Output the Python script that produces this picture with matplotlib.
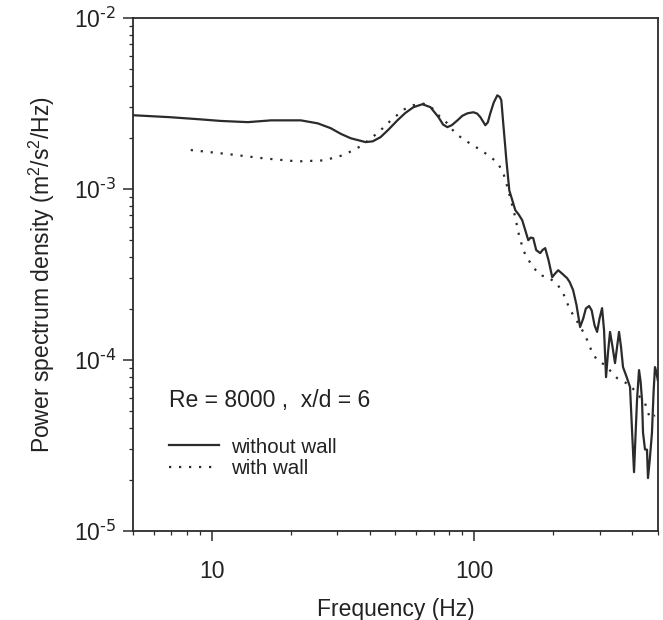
import numpy as np
import matplotlib
matplotlib.use("Agg")
import matplotlib.pyplot as plt
from matplotlib.ticker import LogLocator, NullFormatter, FuncFormatter

plt.rcParams['font.family'] = ['Liberation Sans', 'DejaVu Sans']
plt.rcParams['mathtext.default'] = 'regular'
plt.rcParams['axes.unicode_minus'] = False

# --- spectra read at Re = 8000, x/d = 6 ---
# without wall (solid)
f_free = [5.0, 6.9, 8.85, 10.8, 13.7, 16.8, 21.8, 25.3, 28.3, 31.0, 33.8, 38.5, 41.0,
          43.9, 47.0, 50.9, 54.5, 58.6, 63.4, 68.0, 73.0, 76.0, 78.9, 82.0, 86.2, 90.0,
          94.1, 99.1, 102.5, 105.4, 110.1, 112.5, 115.0, 118.5, 122.3, 125.0, 126.7,
          128.9, 131.0, 132.3, 135.9, 139.5, 143.2, 147.5, 152.2, 156.0, 160.5, 164.0,
          167.6, 172.1, 178.2, 182.0, 186.2, 192.0, 198.0, 203.0, 208.7, 216.0, 225.7,
          231.0, 237.9, 245.0, 252.9, 260.0, 266.0, 273.7, 280.0, 287.0, 293.6, 300.0,
          306.7, 312.0, 317.6, 323.0, 328.9, 336.0, 343.6, 350.0, 355.9, 362.0, 368.6,
          380.0, 392.0, 398.9, 406.0, 411.0, 416.8, 424.2, 430.0, 435.5, 439.3, 447.0,
          454.9, 458.9, 466.0, 475.2, 482.0, 487.9, 493.0, 500.0]
psd_free = [2.70e-3, 2.63e-3, 2.56e-3, 2.50e-3, 2.46e-3, 2.52e-3, 2.52e-3, 2.42e-3,
            2.27e-3, 2.10e-3, 1.98e-3, 1.88e-3, 1.90e-3, 2.01e-3, 2.22e-3, 2.52e-3,
            2.78e-3, 3.01e-3, 3.13e-3, 3.01e-3, 2.63e-3, 2.38e-3, 2.30e-3, 2.36e-3,
            2.52e-3, 2.68e-3, 2.77e-3, 2.81e-3, 2.76e-3, 2.63e-3, 2.36e-3, 2.45e-3,
            2.77e-3, 3.20e-3, 3.53e-3, 3.45e-3, 3.30e-3, 2.40e-3, 1.80e-3, 1.50e-3,
            9.8e-4, 8.6e-4, 7.52e-4, 7.1e-4, 6.57e-4, 5.8e-4, 5.02e-4, 5.2e-4, 5.16e-4,
            4.39e-4, 4.22e-4, 4.4e-4, 4.51e-4, 3.8e-4, 3.05e-4, 3.2e-4, 3.35e-4, 3.2e-4,
            3.01e-4, 2.85e-4, 2.56e-4, 2.1e-4, 1.56e-4, 1.75e-4, 2.0e-4, 2.07e-4, 1.95e-4,
            1.6e-4, 1.46e-4, 1.75e-4, 2.01e-4, 1.5e-4, 7.94e-5, 1.1e-4, 1.46e-4, 1.2e-4,
            9.59e-5, 1.2e-4, 1.46e-4, 1.2e-4, 9.09e-5, 8.0e-5, 6.95e-5, 3.89e-5, 2.21e-5,
            3.5e-5, 5.83e-5, 8.73e-5, 7.5e-5, 5.83e-5, 3.76e-5, 3.0e-5, 2.99e-5, 2.04e-5,
            2.6e-5, 3.76e-5, 6.5e-5, 9.09e-5, 8.6e-5, 7.64e-5]

# with wall (dotted)
f_wall = [8.3, 11.5, 15.8, 21.2, 26.7, 31.8, 36.9, 39.5, 43.2, 46.7, 50.1, 54.2, 58.6,
          63.4, 68.0, 73.0, 78.9, 83.9, 90.8, 99.1, 107.3, 115.0, 123.4, 128.9, 134.7,
          143.2, 147.0, 153.6, 159.1, 167.6, 178.2, 191.1, 206.9, 217.9, 231.7, 242.1,
          264.2, 281.0, 293.6, 314.8, 349.8, 392.0, 446.8, 467.0, 488.0]
psd_wall = [1.69e-3, 1.60e-3, 1.51e-3, 1.45e-3, 1.47e-3, 1.58e-3, 1.78e-3, 1.93e-3,
            2.15e-3, 2.42e-3, 2.66e-3, 2.93e-3, 3.09e-3, 3.17e-3, 3.04e-3, 2.70e-3,
            2.42e-3, 2.15e-3, 1.95e-3, 1.80e-3, 1.66e-3, 1.55e-3, 1.40e-3, 1.24e-3,
            9.84e-4, 6.84e-4, 5.59e-4, 4.39e-4, 3.94e-4, 3.49e-4, 3.13e-4, 3.05e-4,
            2.78e-4, 2.46e-4, 1.96e-4, 1.76e-4, 1.40e-4, 1.11e-4, 9.99e-5, 9.34e-5,
            7.84e-5, 7.13e-5, 5.60e-5, 4.57e-5, 4.75e-5]

x_ticks = [10, 100]
x_tick_labels = ['10', '100']
labels = ['without wall', 'with wall']
case_text = 'Re = 8000 ,  x/d = 6'

fig = plt.figure(figsize=(6.63, 6.20), dpi=100)
ax = fig.add_axes([0.2006, 0.1435, 0.7915, 0.8275])

ink = '#2b2b2b'
ax.plot(f_free, psd_free, '-', color=ink, lw=1.6, label=labels[0])
ax.plot(f_wall, psd_wall, color=ink, lw=1.6, linestyle=(0, (1, 3.5)), label=labels[1])

ax.set_xscale('log')
ax.set_yscale('log')
ax.set_xlim(5, 500)
ax.set_ylim(1e-5, 1e-2)

ax.set_xticks(x_ticks)
ax.set_xticklabels(x_tick_labels)
ax.xaxis.set_minor_locator(LogLocator(base=10, subs=np.arange(2, 10)))
ax.xaxis.set_minor_formatter(NullFormatter())
ax.yaxis.set_major_locator(LogLocator(base=10, numticks=10))
# short hyphen in the exponent, as in the printed axis
ax.yaxis.set_major_formatter(FuncFormatter(
    lambda v, pos: r'10$^{\text{-%d}}$' % round(-np.log10(v))))
ax.yaxis.set_minor_locator(LogLocator(base=10, subs=np.arange(2, 10), numticks=10))
ax.yaxis.set_minor_formatter(NullFormatter())

ax.tick_params(which='major', direction='out', length=7, width=1.1, colors=ink,
               labelsize=16.5, labelcolor='#222222')
ax.tick_params(axis='x', which='major', pad=14)
ax.tick_params(axis='y', which='major', pad=5)
ax.tick_params(which='minor', direction='out', length=3, width=0.9, colors=ink)

for sp in ax.spines.values():
    sp.set_linewidth(1.3)
    sp.set_color(ink)

ax.set_xlabel('Frequency (Hz)', fontsize=16.5, color='#222222', labelpad=11)
ax.set_ylabel('Power spectrum density (m$^2$/s$^2$/Hz)', fontsize=16.5,
              color='#222222', labelpad=12)

ax.text(0.068, 0.255, case_text, transform=ax.transAxes, fontsize=16.5,
        va='center', ha='left', color='#222222')

ax.legend(loc='upper left', bbox_to_anchor=(0.068, 0.182), frameon=False,
          fontsize=14.8, handlelength=2.45, handletextpad=0.6, labelspacing=0.12,
          borderpad=0, borderaxespad=0, labelcolor='#222222')

fig.savefig('out.png', dpi=100, facecolor='white')
